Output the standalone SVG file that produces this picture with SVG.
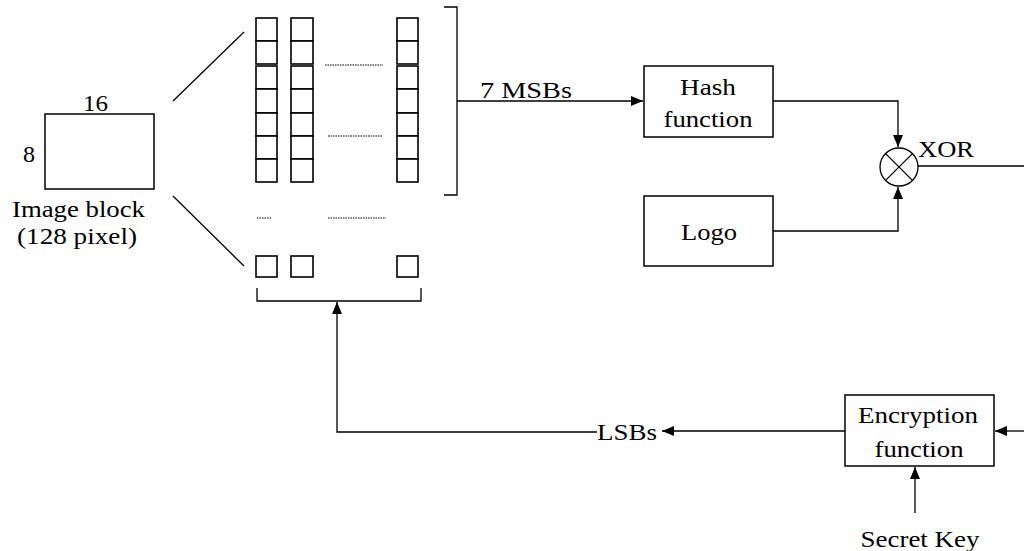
<svg xmlns="http://www.w3.org/2000/svg" width="1024" height="551" viewBox="0 0 1024 551">
<style>
text{font-family:'Liberation Serif','DejaVu Serif',serif;font-size:24px;fill:#000}
.b{fill:#fff;stroke:#000;stroke-width:1.5}
.sq{fill:#fff;stroke:#000;stroke-width:1.6}
.l{fill:none;stroke:#000;stroke-width:1.3}
.d{fill:none;stroke:#000;stroke-width:1;stroke-dasharray:1.5 1}
</style>
<defs>
<marker id="ah" markerWidth="12" markerHeight="10" refX="12" refY="5" orient="auto" markerUnits="userSpaceOnUse">
<path d="M0,0 L12,5 L0,10 Z" fill="#000"/>
</marker>
</defs>
<g id="image-block">
<rect class="b" x="45" y="114" width="109" height="75"/>
<text x="83" y="111" textLength="25" lengthAdjust="spacingAndGlyphs">16</text>
<text x="23" y="162">8</text>
<text x="12" y="217" textLength="133" lengthAdjust="spacingAndGlyphs">Image block</text>
<text x="17" y="244" textLength="120" lengthAdjust="spacingAndGlyphs">(128 pixel)</text>
</g>
<g id="pixel-grid">
<g id="col1">
<rect class="sq" x="256" y="18" width="21" height="23"/>
<rect class="sq" x="256" y="41" width="21" height="23"/>
<rect class="sq" x="256" y="66" width="21" height="23"/>
<rect class="sq" x="256" y="89" width="21" height="24"/>
<rect class="sq" x="256" y="113" width="21" height="23"/>
<rect class="sq" x="256" y="136" width="21" height="23"/>
<rect class="sq" x="256" y="159" width="21" height="23"/>
<rect class="sq" x="256" y="256" width="21" height="21"/>
</g>
<g id="col2">
<rect class="sq" x="291" y="18" width="22" height="23"/>
<rect class="sq" x="291" y="41" width="22" height="23"/>
<rect class="sq" x="291" y="66" width="22" height="23"/>
<rect class="sq" x="291" y="89" width="22" height="24"/>
<rect class="sq" x="291" y="113" width="22" height="23"/>
<rect class="sq" x="291" y="136" width="22" height="23"/>
<rect class="sq" x="291" y="159" width="22" height="23"/>
<rect class="sq" x="291" y="256" width="22" height="21"/>
</g>
<g id="col3">
<rect class="sq" x="397" y="18" width="21" height="23"/>
<rect class="sq" x="397" y="41" width="21" height="23"/>
<rect class="sq" x="397" y="66" width="21" height="23"/>
<rect class="sq" x="397" y="89" width="21" height="24"/>
<rect class="sq" x="397" y="113" width="21" height="23"/>
<rect class="sq" x="397" y="136" width="21" height="23"/>
<rect class="sq" x="397" y="159" width="21" height="23"/>
<rect class="sq" x="397" y="256" width="21" height="21"/>
</g>
<line class="d" x1="325" y1="65" x2="383" y2="65"/>
<line class="d" x1="328" y1="136" x2="383" y2="136"/>
<line class="d" x1="257" y1="218" x2="271" y2="218"/>
<line class="d" x1="328" y1="218" x2="386" y2="218"/>
<path class="l" d="M444,7 H457 V195 H444"/>
<path class="l" d="M257,288 V301 H421 V288"/>
</g>
<g id="hash">
<rect class="b" x="644" y="66" width="129" height="71"/>
<text x="708" y="95" text-anchor="middle" textLength="56" lengthAdjust="spacingAndGlyphs">Hash</text>
<text x="708" y="127" text-anchor="middle" textLength="89" lengthAdjust="spacingAndGlyphs">function</text>
</g>
<g id="logo">
<rect class="b" x="644" y="196" width="129" height="70"/>
<text x="709" y="240" text-anchor="middle" textLength="56" lengthAdjust="spacingAndGlyphs">Logo</text>
</g>
<g id="xor">
<circle class="l" cx="899" cy="167" r="19"/>
<line class="l" x1="885.6" y1="153.6" x2="912.4" y2="180.4"/>
<line class="l" x1="912.4" y1="153.6" x2="885.6" y2="180.4"/>
<text x="918" y="157" textLength="56" lengthAdjust="spacingAndGlyphs">XOR</text>
</g>
<g id="encryption">
<rect class="b" x="845" y="395" width="149" height="71"/>
<text x="918" y="423" text-anchor="middle" textLength="120" lengthAdjust="spacingAndGlyphs">Encryption</text>
<text x="919" y="457" text-anchor="middle" textLength="89" lengthAdjust="spacingAndGlyphs">function</text>
</g>
<g id="secret-key">
<text x="920" y="547" text-anchor="middle" textLength="119" lengthAdjust="spacingAndGlyphs">Secret Key</text>
</g>
<g id="connectors">
<line class="l" x1="173" y1="101" x2="244" y2="32"/>
<line class="l" x1="173" y1="196" x2="244" y2="266"/>
<line class="l" x1="457" y1="101" x2="643" y2="101" marker-end="url(#ah)"/>
<text x="480" y="98" textLength="92" lengthAdjust="spacingAndGlyphs">7 MSBs</text>
<path class="l" d="M773,101 H898 V147" marker-end="url(#ah)"/>
<path class="l" d="M773,231 H898 V187" marker-end="url(#ah)"/>
<line class="l" x1="918" y1="166" x2="1024" y2="166"/>
<line class="l" x1="1024" y1="431" x2="995" y2="431" marker-end="url(#ah)"/>
<line class="l" x1="845" y1="431" x2="662" y2="431" marker-end="url(#ah)"/>
<text x="597" y="440" textLength="60" lengthAdjust="spacingAndGlyphs">LSBs</text>
<path class="l" d="M597,432 H337 V302" marker-end="url(#ah)"/>
<line class="l" x1="915" y1="513" x2="915" y2="467" marker-end="url(#ah)"/>
</g>
</svg>
